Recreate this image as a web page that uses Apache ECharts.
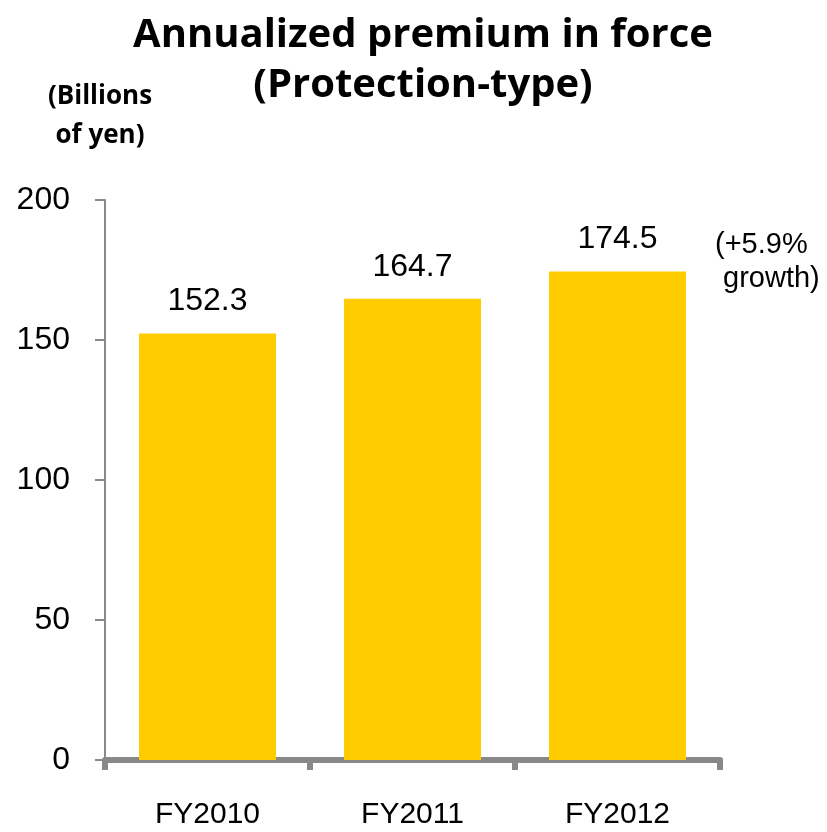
<!DOCTYPE html>
<html><head><meta charset="utf-8">
<script src="https://cdn.jsdelivr.net/npm/echarts@6/dist/echarts.min.js"></script>
<style>html,body{margin:0;padding:0;background:#fff}#c{width:827px;height:832px}</style>
</head><body><div id="c"></div>
<script>
const categories = ['FY2010', 'FY2011', 'FY2012'];
const premiumValues = [152.3, 164.7, 174.5];
const yTicks = [0, 50, 100, 150, 200];
const titleText = 'Annualized premium in force\n(Protection-type)';
const unitText = '(Billions\nof yen)';
const growthText = '(+5.9%\n growth)';

const chart = echarts.init(document.getElementById('c'));
const titleFont = '"Liberation Sans Narrow", "Open Sans", sans-serif';
const bodyFont = '"Liberation Sans", Arial, sans-serif';
chart.setOption({
  animation: false,
  title: [
    { text: titleText, left: 418, top: 6, textAlign: 'center',
      textStyle: { fontFamily: titleFont, fontWeight: 'bold', fontSize: 40, lineHeight: 50, color: '#000' } },
    { text: unitText, left: 95, top: 72, textAlign: 'center',
      textStyle: { fontFamily: titleFont, fontWeight: 'bold', fontSize: 26, lineHeight: 39, color: '#000' } },
    { text: growthText, left: 710, top: 223,
      textStyle: { fontFamily: bodyFont, fontWeight: 'normal', fontSize: 29, lineHeight: 34, color: '#000' } }
  ],
  grid: { left: 105, right: 107, top: 200, bottom: 72, containLabel: false },
  xAxis: {
    type: 'category', data: categories,
    axisLine: { lineStyle: { color: '#888888', width: 6 } },
    axisTick: { show: true, length: 10, lineStyle: { color: '#888888', width: 6 } },
    axisLabel: { fontFamily: bodyFont, fontSize: 30, color: '#000', margin: 40 }
  },
  yAxis: {
    type: 'value', min: yTicks[0], max: yTicks[yTicks.length - 1], interval: 50,
    splitLine: { show: false },
    axisLine: { show: true, lineStyle: { color: '#898989', width: 2 } },
    axisTick: { show: true, length: 10, lineStyle: { color: '#898989', width: 2 } },
    axisLabel: { fontFamily: bodyFont, fontSize: 32, color: '#000', margin: 35 }
  },
  series: [{
    type: 'bar', data: premiumValues, barWidth: 137,
    itemStyle: { color: '#FFCC00' },
    label: { show: true, position: 'top', distance: 16, formatter: p => p.value.toFixed(1),
      fontFamily: bodyFont, fontSize: 32, color: '#000' }
  }]
});
</script></body></html>
